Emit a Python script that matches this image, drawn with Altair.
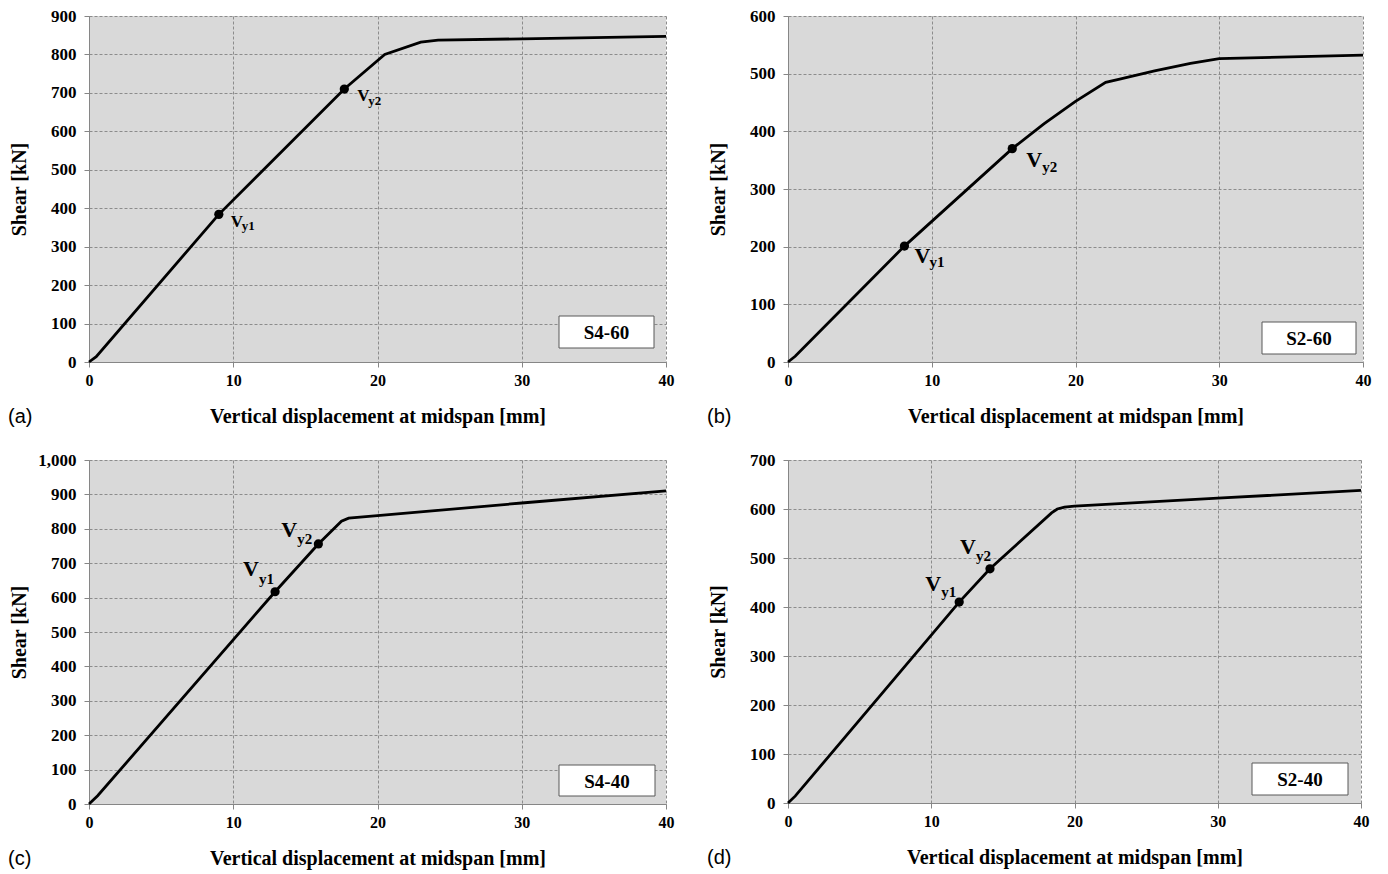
import altair as alt
import pandas as pd

SERIF = "Liberation Serif"
SANS = "Liberation Sans"

# ---- data ----
panel_tags = ["(a)", "(b)", "(c)", "(d)"]
specimens = ["S4-60", "S2-60", "S4-40", "S2-40"]
y_max = [900, 600, 1000, 700]

disp_a = [0, 0.5, 9.0, 17.7, 20.5, 23.0, 24.2, 40]
shear_a = [0, 14, 384, 710, 800, 832, 837, 847]

disp_b = [0, 0.5, 8.1, 15.6, 17.8, 20.0, 22.1, 23.0, 25.5, 28.0, 30.0, 40]
shear_b = [0, 10, 201, 370, 413, 452, 485, 490, 505, 518, 526, 532]

disp_c = [0, 0.6, 12.9, 15.9, 17.5, 18.0, 20, 30, 40]
shear_c = [0, 24, 617, 756, 822, 831, 838, 875, 910]

disp_d = [0, 0.5, 11.95, 14.1, 18.4, 18.8, 19.3, 20, 30, 40]
shear_d = [0, 14, 410, 478, 592, 600, 604, 606, 622, 638]

vy_disp = [[9.0, 17.7], [8.1, 15.6], [12.9, 15.9], [11.95, 14.1]]
vy_shear = [[384, 710], [201, 370], [617, 756], [410, 478]]
vy_subs = ["y1", "y2"]

x_ticks = [0, 10, 20, 30, 40]

# ---- styling (offsets / sizes per panel) ----
sizes = [(577, 346), (575, 346), (577, 344), (573, 343)]
# (V dx, V dy, sub dx, sub dy) for Vy1 and Vy2
label_offsets = [
    [(12, 13, 23, 16), (13, 12, 24, 16)],
    [(10, 17, 25, 21), (14, 18, 30, 23)],
    [(-32, -16, -16, -8), (-37, -7, -21, 0)],
    [(-34, -11, -18, -5), (-30, -15, -14, -8)],
]
label_fonts = [(17, 13), (22, 15), (22, 15), (22, 15)]
# box (left from right edge, right from right edge, top from bottom, bottom from bottom)
box_geom = [(107, 12, 46, 14), (101, 7, 40, 8), (107, 11, 39, 8), (109, 13, 40, 8)]

curves = [(disp_a, shear_a), (disp_b, shear_b), (disp_c, shear_c), (disp_d, shear_d)]


def make_panel(i):
    W, H = sizes[i]
    disp, shear = curves[i]
    ymax = y_max[i]
    df = pd.DataFrame({"d": disp, "v": shear})
    xenc = alt.X(
        "d:Q",
        scale=alt.Scale(domain=[0, 40], nice=False, zero=True),
        axis=alt.Axis(
            values=x_ticks,
            format="d",
            title="Vertical displacement at midspan [mm]",
            titleY=54,
            titleBaseline="middle",
            labelFontSize=16,
            labelPadding=5,
            labelOverlap=False,
            labelFlush=False,
        ),
    )
    yenc = alt.Y(
        "v:Q",
        scale=alt.Scale(domain=[0, ymax], nice=False),
        axis=alt.Axis(
            values=list(range(0, ymax + 1, 100)),
            tickCount=len(range(0, ymax + 1, 100)),
            format=",.0f",
            title="Shear  [kN]",
            titleX=-70,
            titleY=H / 2,
            titleAngle=270,
            titleBaseline="middle",
            titleAlign="center",
            labelFontSize=17,
            labelPadding=8,
            labelOverlap=False,
            labelFlush=False,
        ),
    )
    line = alt.Chart(df).mark_line(color="black", strokeWidth=2.8).encode(x=xenc, y=yenc)

    pts_df = pd.DataFrame({"d": vy_disp[i], "v": vy_shear[i], "s": vy_subs})
    dots = alt.Chart(pts_df).mark_circle(size=85, color="black", opacity=1).encode(
        x=xenc, y=yenc
    )
    layers = [line, dots]
    vf, sf = label_fonts[i]
    for k in range(2):
        one = pts_df.iloc[[k]]
        vdx, vdy, sdx, sdy = label_offsets[i][k]
        layers.append(
            alt.Chart(one).mark_text(
                text="V", align="left", baseline="alphabetic", dx=vdx, dy=vdy,
                font=SERIF, fontWeight="bold", fontSize=vf, color="black",
            ).encode(x=xenc, y=yenc)
        )
        layers.append(
            alt.Chart(one).mark_text(
                align="left", baseline="alphabetic", dx=sdx, dy=sdy,
                font=SERIF, fontWeight="bold", fontSize=sf, color="black",
            ).encode(x=xenc, y=yenc, text="s:N")
        )

    bl, br, bt, bb = box_geom[i]
    box_df = pd.DataFrame({"t": [specimens[i]], "p": [panel_tags[i]]})
    layers.append(
        alt.Chart(box_df).mark_rect(fill="white", stroke="#595959", strokeWidth=1).encode(
            x=alt.value(W - bl), x2=alt.value(W - br), y=alt.value(H - bt), y2=alt.value(H - bb)
        )
    )
    layers.append(
        alt.Chart(box_df).mark_text(
            font=SERIF, fontWeight="bold", fontSize=19, color="black", baseline="middle", align="center"
        ).encode(
            x=alt.value(W - (bl + br) / 2), y=alt.value(H - (bt + bb) / 2 + 1), text="t:N"
        )
    )
    layers.append(
        alt.Chart(box_df).mark_text(
            font=SANS, fontSize=20, color="black", baseline="middle", align="left"
        ).encode(x=alt.value(-81), y=alt.value(H + 55), text="p:N")
    )
    return alt.layer(*layers).properties(width=W, height=H)


chart = alt.concat(
    *[make_panel(i) for i in range(4)], columns=2, spacing={"row": 24, "column": 33}
).properties(
    padding={"left": 8, "top": 7, "right": 5, "bottom": 5}
).configure_view(
    stroke=None, fill="#d9d9d9"
).configure_axis(
    domainColor="#868686",
    tickColor="#868686",
    tickSize=5,
    gridColor="#8c8c8c",
    gridDash=[3, 2],
    gridWidth=1,
    labelFont=SERIF,
    labelFontWeight="bold",
    labelColor="black",
    titleFont=SERIF,
    titleFontWeight="bold",
    titleFontSize=20,
    titleColor="black",
)

chart.save("out.html", embed_options={"renderer": "svg", "actions": False})
